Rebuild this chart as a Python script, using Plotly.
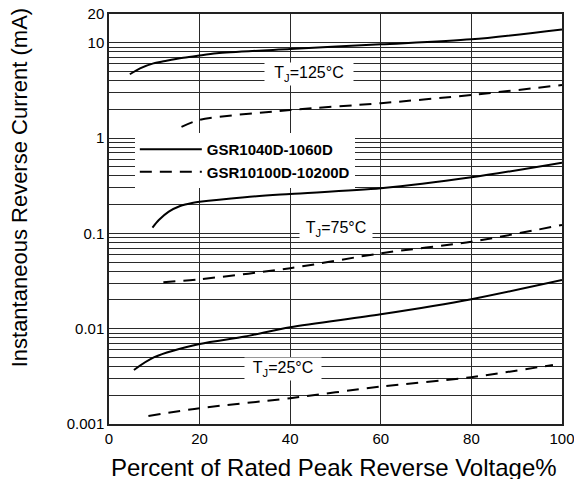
import math
import plotly.graph_objects as go

# Percent of rated peak reverse voltage (x) and reverse current in mA (y)
x_125_solid = [4.6, 6.85, 9.8, 12.7, 16.4, 19.6, 23.8, 40, 60, 80, 100]
y_125_solid = [4.67, 5.39, 6.08, 6.48, 6.96, 7.31, 7.75, 8.59, 9.62, 10.86, 13.8]
x_125_dash = [16, 20, 40, 60, 80, 100]
y_125_dash = [1.31, 1.55, 1.97, 2.32, 2.83, 3.6]

x_75_solid = [9.6, 11.0, 13.2, 15.7, 18.6, 20, 30, 40, 60, 80, 100]
y_75_solid = [0.115, 0.138, 0.169, 0.194, 0.210, 0.215, 0.24, 0.259, 0.297, 0.387, 0.552]
x_75_dash = [12, 20, 40, 60, 80, 100]
y_75_dash = [0.0307, 0.0330, 0.0431, 0.0618, 0.0818, 0.1225]

x_25_solid = [5.5, 10, 20, 30, 40, 60, 80, 100]
y_25_solid = [0.00369, 0.00502, 0.00691, 0.00826, 0.01036, 0.01417, 0.0204, 0.0324]
x_25_dash = [8.7, 20, 40, 60, 80, 98]
y_25_dash = [0.001216, 0.001465, 0.001866, 0.00247, 0.0031, 0.00417]

series_names = ["GSR1040D-1060D", "GSR10100D-10200D"]
y_tickvals = [0.001, 0.01, 0.1, 1, 10, 20]
y_ticktext = ["0.001", "0.01", "0.1", "1", "10", "20"]
x_tickvals = [0, 20, 40, 60, 80, 100]
temp_labels = ["T<sub>J</sub>=125°C", "T<sub>J</sub>=75°C", "T<sub>J</sub>=25°C"]
temp_label_x = [44.1, 50.1, 38.4]
temp_label_y = [4.7, 0.111, 0.00378]

FONT = "Liberation Sans, Arial, sans-serif"
solid = dict(color="black", width=2, shape="spline", smoothing=0.8)
dashed = dict(color="black", width=2, dash="12px,8px", shape="spline", smoothing=0.8)

fig = go.Figure()
fig.add_trace(go.Scatter(x=x_125_solid, y=y_125_solid, mode="lines", line=solid,
                         name=series_names[0], legendgroup="a"))
fig.add_trace(go.Scatter(x=x_125_dash, y=y_125_dash, mode="lines", line=dashed,
                         name=series_names[1], legendgroup="b"))
fig.add_trace(go.Scatter(x=x_75_solid, y=y_75_solid, mode="lines", line=solid,
                         showlegend=False, legendgroup="a"))
fig.add_trace(go.Scatter(x=x_75_dash, y=y_75_dash, mode="lines", line=dashed,
                         showlegend=False, legendgroup="b"))
fig.add_trace(go.Scatter(x=x_25_solid, y=y_25_solid, mode="lines", line=solid,
                         showlegend=False, legendgroup="a"))
fig.add_trace(go.Scatter(x=x_25_dash, y=y_25_dash, mode="lines", line=dashed,
                         showlegend=False, legendgroup="b"))

grid_col = "#2a2a2a"
tick_font = dict(size=15, color="black", family=FONT)
fig.update_xaxes(range=[0, 100], tickvals=x_tickvals, showgrid=True, gridcolor=grid_col,
                 gridwidth=1, showline=True, linecolor="#222", linewidth=1.5, mirror=True,
                 ticks="", zeroline=False, tickfont=tick_font, automargin=False)
fig.update_yaxes(type="log", range=[-3, math.log10(20) + 0.0005], tickvals=y_tickvals,
                 ticktext=y_ticktext, ticklabeloverflow="allow", automargin=False,
                 showgrid=True, gridcolor=grid_col, gridwidth=1,
                 minor=dict(dtick="D1", showgrid=True, gridcolor=grid_col, gridwidth=1, ticks=""),
                 showline=True, linecolor="#222", linewidth=1.5, mirror=True, ticks="",
                 zeroline=False, tickfont=tick_font)

ann_font = dict(size=16, color="black", family=FONT)
box_w = [84, 68, 72]
for txt, xv, yv, w in zip(temp_labels, temp_label_x, temp_label_y, box_w):
    fig.add_annotation(x=xv, y=math.log10(yv), xref="x", yref="y", text=txt, showarrow=False,
                       bgcolor="white", font=ann_font, borderpad=2, width=w, height=18,
                       xanchor="center", yanchor="middle")

fig.add_annotation(x=-0.198, y=0.578, xref="paper", yref="paper", textangle=-90,
                   xanchor="center", yanchor="middle",
                   text="Instantaneous Reverse Current (mA)", showarrow=False,
                   font=dict(size=22, color="black", family=FONT))
fig.add_annotation(x=0.497, y=-0.105, xref="paper", yref="paper", xanchor="center",
                   yanchor="middle",
                   text="Percent of Rated Peak Reverse Voltage%", showarrow=False,
                   font=dict(size=24, color="black", family=FONT))

# page body has an 8px default margin, so the figure is 8px smaller and margins shifted
fig.update_layout(
    width=574, height=471,
    margin=dict(l=101, r=20, t=6, b=55, autoexpand=False),
    paper_bgcolor="white", plot_bgcolor="white",
    showlegend=True,
    legend=dict(x=0.057, y=0.71, xanchor="left", yanchor="top", bgcolor="white",
                font=dict(size=15, color="black", family=FONT, weight="bold"),
                tracegroupgap=0, itemwidth=62),
)

fig.write_html("out.html")
